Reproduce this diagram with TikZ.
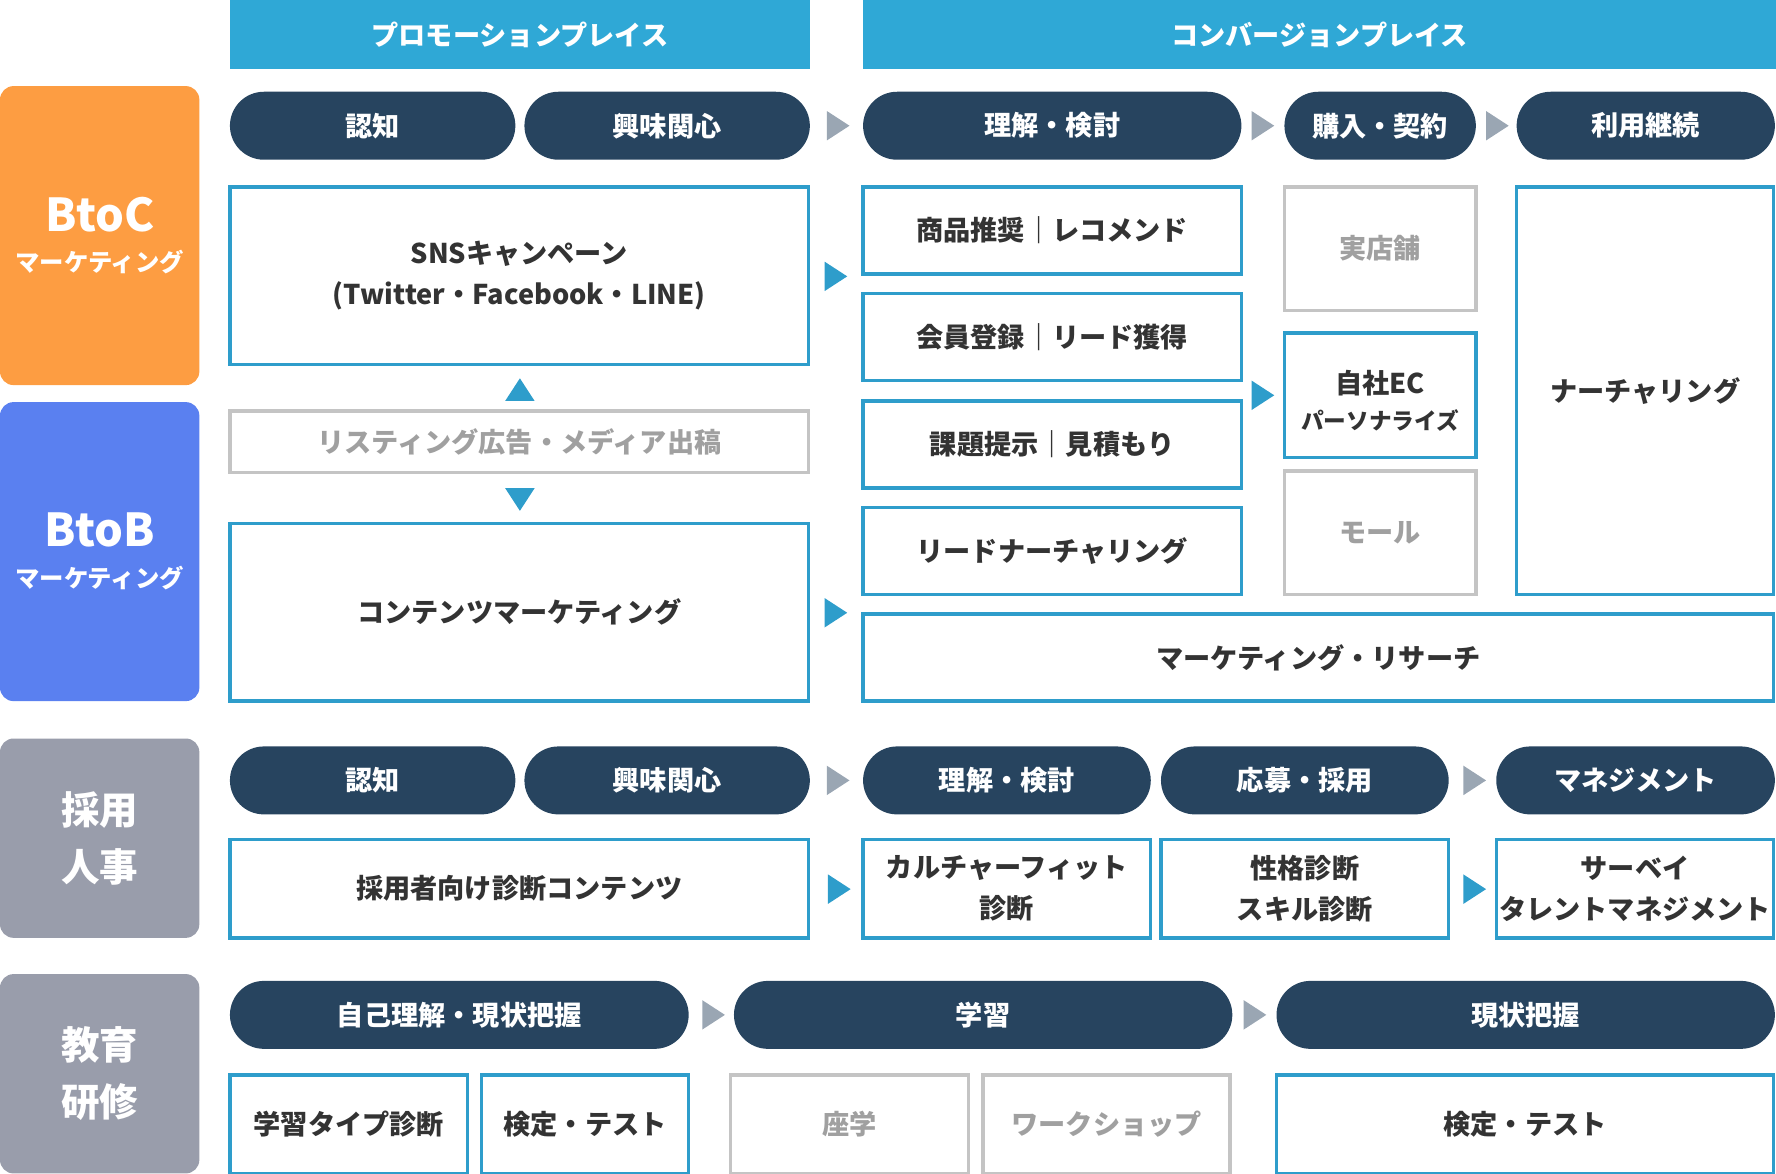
\documentclass[tikz,border=0pt]{standalone}
\usepackage{fontspec}
\setmainfont{Noto Sans CJK JP}
\usepackage{xcolor}
\usetikzlibrary{positioning}

\definecolor{headblue}{HTML}{2FA8D6}
\definecolor{navy}{HTML}{27445F}
\definecolor{cyanb}{HTML}{2E9DCB}
\definecolor{orangec}{HTML}{FD9D42}
\definecolor{blueb}{HTML}{5A80F0}
\definecolor{graycat}{HTML}{999DAB}
\definecolor{grayarr}{HTML}{9AA6B3}
\definecolor{grayline}{HTML}{C4C4C4}
\definecolor{graytxt}{HTML}{A0A0A0}
\definecolor{txt}{HTML}{333333}

\begin{document}
\begin{tikzpicture}[x=1pt, y=-1pt,
    every node/.style={inner sep=0pt, outer sep=0pt, anchor=north west},
    head/.style={fill=headblue, text=white, minimum height=61, font=\fontsize{24}{28}\selectfont\bfseries},
    pill/.style={fill=navy, text=white, rounded corners=30pt, minimum height=60, font=\fontsize{24}{30}\selectfont\bfseries},
    bx/.style={draw=cyanb, line width=3pt, fill=white, text=txt, align=center, font=\fontsize{24}{36}\selectfont\bfseries},
    gbx/.style={bx, draw=grayline, text=graytxt},
    cat/.style={rounded corners=12pt, text=white, minimum width=176, align=center},
    bigcat/.style={cat, font=\fontsize{40}{46}\selectfont\bfseries},
    jpcat/.style={cat, minimum height=176, font=\fontsize{34}{50}\selectfont\bfseries}
  ]
  \tikzset{
    tri/.pic={\fill (-10,-13) -- (10,0) -- (-10,13) -- cycle;},
    triG/.style={fill=grayarr},
    triC/.style={fill=cyanb}
  }
  \useasboundingbox (0,0) rectangle (1568,1036.5);

  % places
  \node[head, minimum width=512] (promo) at (203,0) {プロモーションプレイス};
  \node[head, minimum width=806] (conv) at (762,0) {コンバージョンプレイス};

  % categories
  \node[bigcat, fill=orangec, minimum height=264] (btoc) at (0,76)
    {BtoC\\[-10pt]{\fontsize{21.5}{26}\selectfont マーケティング}};
  \node[bigcat, fill=blueb, minimum height=264] (btob) at (0,355)
    {BtoB\\[-10pt]{\fontsize{21.5}{26}\selectfont マーケティング}};
  \node[jpcat, fill=graycat] (saiyo) at (0,652) {採用\\人事};
  \node[jpcat, fill=graycat] (kyoiku) at (0,860) {教育\\研修};

  % BtoC / BtoB
  \node[pill, minimum width=252] (p1) at (203,81) {認知};
  \node[pill, minimum width=252] (p2) at (463,81) {興味関心};
  \node[pill, minimum width=334] (p3) at (762,81) {理解・検討};
  \node[pill, minimum width=169] (p4) at (1134,81) {購入・契約};
  \node[pill, minimum width=228] (p5) at (1339,81) {利用継続};
  \pic[triG] at (740,111) {tri};
  \pic[triG] at (1115,111) {tri};
  \pic[triG] at (1322,111) {tri};

  \node[bx, minimum width=511, minimum height=157] (sns) at (203,165)
    {SNSキャンペーン\\(Twitter・Facebook・LINE)};
  \node[gbx, minimum width=511, minimum height=54] (list) at (203,363) {リスティング広告・メディア出稿};
  \node[bx, minimum width=511, minimum height=157] (cont) at (203,462) {コンテンツマーケティング};
  \pic[triC, rotate=90] at (459,344) {tri};
  \pic[triC, rotate=-90] at (459,441) {tri};
  \pic[triC] at (738,244) {tri};
  \pic[triC] at (738,541) {tri};

  \node[bx, minimum width=334, minimum height=77] (reco) at (762,165) {商品推奨｜レコメンド};
  \node[bx, minimum width=334, minimum height=77] (lead) at (762,259) {会員登録｜リード獲得};
  \node[bx, minimum width=334, minimum height=77] (mitsu) at (762,354) {課題提示｜見積もり};
  \node[bx, minimum width=334, minimum height=77] (ln) at (762,448) {リードナーチャリング};
  \node[bx, minimum width=804, minimum height=77] (res) at (762,542) {マーケティング・リサーチ};
  \pic[triC] at (1115,349) {tri};

  \node[gbx, minimum width=169, minimum height=109] (shop) at (1134,165) {実店舗};
  \node[bx, minimum width=169, minimum height=110] (ec) at (1134,294)
    {\rule{0pt}{30pt}自社EC\\[-4pt]{\fontsize{20}{24}\selectfont パーソナライズ}};
  \node[gbx, minimum width=169, minimum height=109] (mall) at (1134,416) {モール};
  \node[bx, minimum width=227, minimum height=360] (nur) at (1339,165) {ナーチャリング};

  % 採用
  \node[pill, minimum width=252] (q1) at (203,659) {認知};
  \node[pill, minimum width=252] (q2) at (463,659) {興味関心};
  \node[pill, minimum width=254] (q3) at (762,659) {理解・検討};
  \node[pill, minimum width=254] (q4) at (1025,659) {応募・採用};
  \node[pill, minimum width=246] (q5) at (1321,659) {マネジメント};
  \pic[triG] at (740,689) {tri};
  \pic[triG] at (1302,689) {tri};

  \node[bx, minimum width=511, minimum height=87] (shindan) at (203,741) {採用者向け診断コンテンツ};
  \node[bx, minimum width=254, minimum height=87] (cf) at (762,741) {カルチャーフィット\\診断};
  \node[bx, minimum width=254, minimum height=87] (skill) at (1025,741) {性格診断\\スキル診断};
  \node[bx, minimum width=245, minimum height=87] (tm) at (1321,741) {サーベイ\\タレントマネジメント};
  \pic[triC] at (741,785) {tri};
  \pic[triC] at (1302,785) {tri};

  % 教育
  \node[pill, minimum width=405] (r1) at (203,866) {自己理解・現状把握};
  \node[pill, minimum width=440] (r2) at (648,866) {学習};
  \node[pill, minimum width=440] (r3) at (1127,866) {現状把握};
  \pic[triG] at (630,896) {tri};
  \pic[triG] at (1108,896) {tri};

  \node[bx, minimum width=210, minimum height=87] (type) at (203,949) {学習タイプ診断};
  \node[bx, minimum width=183, minimum height=87] (test1) at (425,949) {検定・テスト};
  \node[gbx, minimum width=210, minimum height=87] (zagaku) at (645,949) {座学};
  \node[gbx, minimum width=218, minimum height=87] (ws) at (868,949) {ワークショップ};
  \node[bx, minimum width=439, minimum height=87] (test2) at (1127,949) {検定・テスト};
\end{tikzpicture}
\end{document}
